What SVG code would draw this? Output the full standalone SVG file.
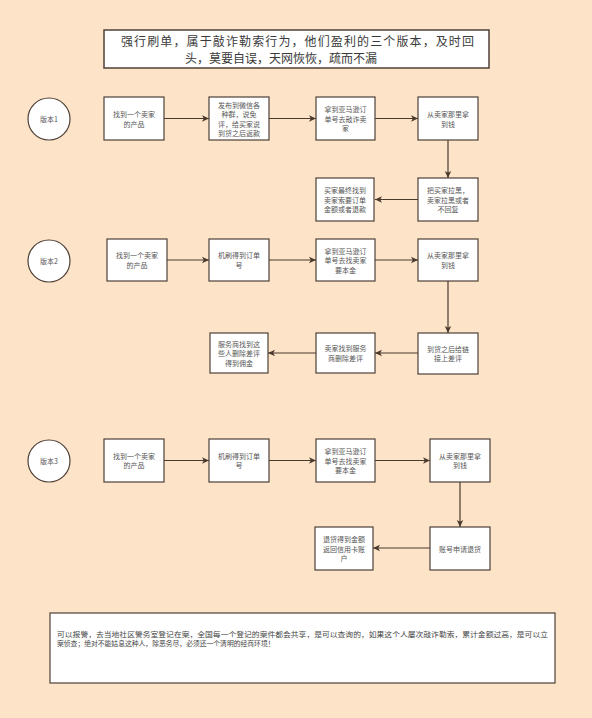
<svg xmlns="http://www.w3.org/2000/svg" width="592" height="718" viewBox="0 0 592 718">
<defs>
<style>
.bg{fill:#fde3c8}
.box{fill:#ffffff;stroke:#4d4037;stroke-width:1.2}
.circ{fill:#ffffff;stroke:#4d4037;stroke-width:1.2}
.t{font-family:"Noto Sans CJK SC","Noto Sans",sans-serif;font-size:7px;fill:#555;text-anchor:middle;dominant-baseline:central}
.title{font-family:"Noto Sans CJK SC","Noto Sans",sans-serif;font-size:12px;fill:#3a3a3a;text-anchor:middle;dominant-baseline:central}
.foot{font-family:"Noto Sans CJK SC","Noto Sans",sans-serif;font-size:6.8px;fill:#444;dominant-baseline:central}
.c{stroke:#4a3a2e;stroke-width:1.2;fill:none;marker-end:url(#ah)}
</style>
<marker id="ah" markerWidth="8" markerHeight="8" refX="7" refY="4" orient="auto" markerUnits="userSpaceOnUse">
<path d="M0,0.8 L7,4 L0,7.2 L1.8,4 Z" fill="#4a3a2e"/>
</marker>
</defs>
<rect class="bg" x="0" y="0" width="592" height="718"/>

<g id="title">
<rect x="104" y="30" width="385" height="38" fill="#fff" stroke="#4d4037" stroke-width="1.5"/>
<text class="title" x="297.5" y="40" textLength="353">强行刷单，属于敲诈勒索行为，他们盈利的三个版本，及时回</text>
<text class="title" x="281" y="57.5">头，莫要自误，天网恢恢，疏而不漏</text>
</g>

<g id="connectors">
<path class="c" d="M164,118.5 L209,118.5"/>
<path class="c" d="M269,118.5 L316,118.5"/>
<path class="c" d="M375,118.5 L418,118.5"/>
<path class="c" d="M448,140 L448,178"/>
<path class="c" d="M418,199.5 L375,199.5"/>

<path class="c" d="M167,260 L209,260"/>
<path class="c" d="M269,260 L316,260"/>
<path class="c" d="M375,260 L418,260"/>
<path class="c" d="M448,281 L448,333"/>
<path class="c" d="M418,353 L375,353"/>
<path class="c" d="M316,353 L268,353"/>

<path class="c" d="M164,460.5 L209,460.5"/>
<path class="c" d="M269,460.5 L316,460.5"/>
<path class="c" d="M375,460.5 L430,460.5"/>
<path class="c" d="M460,482 L460,527"/>
<path class="c" d="M430,548 L373,548"/>
</g>

<g id="v1">
<circle class="circ" cx="49" cy="119" r="21"/>
<text class="t" x="49" y="119">版本1</text>
</g>
<g id="r1a">
<rect class="box" x="104" y="97" width="60" height="43"/>
<text class="t" x="134" y="114">找到一个卖家</text>
<text class="t" x="134" y="123.5">的产品</text>
</g>
<g id="r1b">
<rect class="box" x="209" y="97" width="60" height="43"/>
<text class="t" x="239" y="104.5">发布到微信各</text>
<text class="t" x="239" y="114">种群，说免</text>
<text class="t" x="239" y="123.5">评，给买家说</text>
<text class="t" x="239" y="133">到货之后返款</text>
</g>
<g id="r1c">
<rect class="box" x="316" y="97" width="59" height="43"/>
<text class="t" x="345.5" y="109">拿到亚马逊订</text>
<text class="t" x="345.5" y="118.5">单号去敲诈卖</text>
<text class="t" x="345.5" y="128">家</text>
</g>
<g id="r1d">
<rect class="box" x="418" y="97" width="60" height="43"/>
<text class="t" x="448" y="114">从卖家那里拿</text>
<text class="t" x="448" y="123.5">到钱</text>
</g>
<g id="r1e">
<rect class="box" x="418" y="178" width="60" height="43"/>
<text class="t" x="448" y="190">把买家拉黑，</text>
<text class="t" x="448" y="199.5">卖家拉黑或者</text>
<text class="t" x="448" y="209">不回复</text>
</g>
<g id="r1f">
<rect class="box" x="316" y="178" width="58" height="43"/>
<text class="t" x="345" y="190">买家最终找到</text>
<text class="t" x="345" y="199.5">卖家索要订单</text>
<text class="t" x="345" y="209">金额或者退款</text>
</g>

<g id="v2">
<circle class="circ" cx="49" cy="261" r="21"/>
<text class="t" x="49" y="261">版本2</text>
</g>
<g id="r2a">
<rect class="box" x="107" y="239" width="60" height="42"/>
<text class="t" x="137" y="255.3">找到一个卖家</text>
<text class="t" x="137" y="264.8">的产品</text>
</g>
<g id="r2b">
<rect class="box" x="209" y="239" width="60" height="42"/>
<text class="t" x="239" y="255.3">机刷得到订单</text>
<text class="t" x="239" y="264.8">号</text>
</g>
<g id="r2c">
<rect class="box" x="316" y="239" width="59" height="42"/>
<text class="t" x="345.5" y="250.5">拿到亚马逊订</text>
<text class="t" x="345.5" y="260">单号去找卖家</text>
<text class="t" x="345.5" y="269.5">要本金</text>
</g>
<g id="r2d">
<rect class="box" x="418" y="239" width="60" height="42"/>
<text class="t" x="448" y="255.3">从卖家那里拿</text>
<text class="t" x="448" y="264.8">到钱</text>
</g>
<g id="r2e">
<rect class="box" x="418" y="333" width="60" height="41"/>
<text class="t" x="448" y="348.8">到货之后给链</text>
<text class="t" x="448" y="358.3">接上差评</text>
</g>
<g id="r2f">
<rect class="box" x="316" y="333" width="59" height="40"/>
<text class="t" x="345.5" y="348.3">卖家找到服务</text>
<text class="t" x="345.5" y="357.8">商删除差评</text>
</g>
<g id="r2g">
<rect class="box" x="210" y="333" width="58" height="40"/>
<text class="t" x="239" y="343.5">服务商找到这</text>
<text class="t" x="239" y="353">些人删除差评</text>
<text class="t" x="239" y="362.5">得到佣金</text>
</g>

<g id="v3">
<circle class="circ" cx="49" cy="461" r="21"/>
<text class="t" x="49" y="461">版本3</text>
</g>
<g id="r3a">
<rect class="box" x="104" y="439" width="60" height="43"/>
<text class="t" x="134" y="455.8">找到一个卖家</text>
<text class="t" x="134" y="465.3">的产品</text>
</g>
<g id="r3b">
<rect class="box" x="209" y="439" width="60" height="43"/>
<text class="t" x="239" y="455.8">机刷得到订单</text>
<text class="t" x="239" y="465.3">号</text>
</g>
<g id="r3c">
<rect class="box" x="316" y="439" width="59" height="43"/>
<text class="t" x="345.5" y="451">拿到亚马逊订</text>
<text class="t" x="345.5" y="460.5">单号去找卖家</text>
<text class="t" x="345.5" y="470">要本金</text>
</g>
<g id="r3d">
<rect class="box" x="430" y="439" width="60" height="43"/>
<text class="t" x="460" y="455.8">从卖家那里拿</text>
<text class="t" x="460" y="465.3">到钱</text>
</g>
<g id="r3e">
<rect class="box" x="430" y="527" width="60" height="43"/>
<text class="t" x="460" y="548.5">账号申请退货</text>
</g>
<g id="r3f">
<rect class="box" x="315" y="527" width="58" height="43"/>
<text class="t" x="344" y="539">退货得到金额</text>
<text class="t" x="344" y="548.5">返回信用卡账</text>
<text class="t" x="344" y="558">户</text>
</g>

<g id="footer">
<rect x="50" y="613" width="505" height="70" fill="#fff" stroke="#4d4037" stroke-width="1.2"/>
<text class="foot" x="57" y="634" textLength="491" lengthAdjust="spacingAndGlyphs">可以报警，去当地社区警务室登记在案，全国每一个登记的案件都会共享，是可以查询的，如果这个人屡次敲诈勒索，累计金额过高，是可以立</text>
<text class="foot" x="57" y="643">案侦查；绝对不能姑息这种人，除恶务尽，必须还一个清明的经商环境！</text>
</g>
</svg>
